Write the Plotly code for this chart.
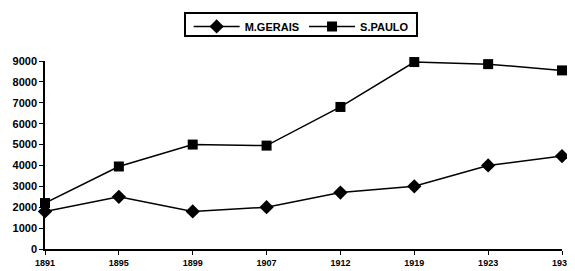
import plotly.graph_objects as go

years = ["1891", "1895", "1899", "1907", "1912", "1919", "1923", "1930"]
mgerais = [1800, 2500, 1800, 2000, 2700, 3000, 4000, 4450]
spaulo = [2200, 3950, 5000, 4950, 6800, 8950, 8850, 8550]
yticks = [0, 1000, 2000, 3000, 4000, 5000, 6000, 7000, 8000, 9000]

fig = go.Figure()
fig.add_trace(go.Scatter(
    x=years, y=mgerais, name="M.GERAIS", mode="lines+markers",
    line=dict(color="black", width=1.5),
    marker=dict(symbol="diamond", size=11, color="black"),
    cliponaxis=False,
))
fig.add_trace(go.Scatter(
    x=years, y=spaulo, name="S.PAULO", mode="lines+markers",
    line=dict(color="black", width=1.5),
    marker=dict(symbol="square", size=10, color="black"),
    cliponaxis=False,
))

# legend frame
fig.add_shape(
    type="rect", xref="paper", yref="paper",
    x0=0.2708, x1=0.7195, y0=1.133, y1=1.2553,
    line=dict(color="black", width=2), fillcolor="rgba(0,0,0,0)",
    layer="above",
)

fig.update_layout(
    width=567, height=263,
    margin=dict(l=37, r=13, t=53, b=22, autoexpand=False),
    paper_bgcolor="white", plot_bgcolor="white",
    font=dict(family="Liberation Sans", size=9, color="black"),
    legend=dict(
        orientation="h", x=0.517, xanchor="center", xref="container",
        y=0.93, yanchor="middle", yref="container",
        borderwidth=0, bgcolor="rgba(0,0,0,0)",
        font=dict(family="Liberation Sans", size=11, color="black", weight="bold"),
        itemwidth=46, tracegroupgap=0,
    ),
    showlegend=True,
)
fig.update_xaxes(
    type="category", range=[0, 7], showgrid=False, zeroline=False,
    showline=True, linecolor="black", linewidth=1.5, automargin=False,
    ticks="outside", ticklen=4, tickcolor="black",
    tickfont=dict(family="Liberation Sans", size=9, weight="bold"),
)
fig.update_yaxes(
    range=[0, 9000], tickvals=yticks, showgrid=False, zeroline=False,
    showline=True, linecolor="black", linewidth=1.5, automargin=False,
    ticks="outside", ticklen=4, tickcolor="black",
    tickfont=dict(family="Liberation Sans", size=11, weight="bold"),
)

fig.write_html("out.html")
